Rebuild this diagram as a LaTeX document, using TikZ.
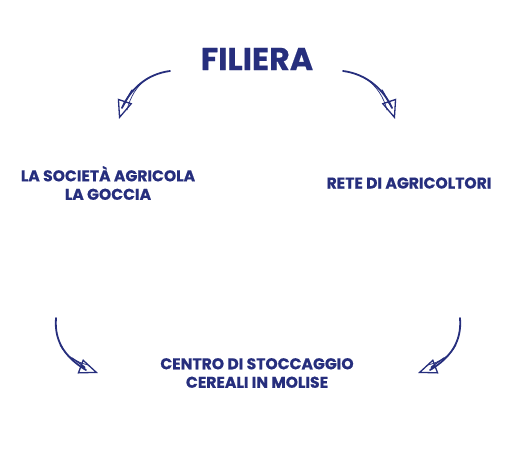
\documentclass[tikz,border=0pt]{standalone}
\usepackage{fontspec}
\setmainfont{Poppins}[BoldFont={* Bold},BoldFeatures={FakeBold=0.5}]
\usetikzlibrary{arrows.meta}
\definecolor{navy}{RGB}{38,46,125}
\tikzset{
  lbl/.style={text=navy, font=\bfseries\fontsize{15.6}{18.5}\selectfont, align=center, inner sep=0pt},
  ttl/.style={text=navy, font=\bfseries\fontsize{31.7}{34}\selectfont, inner sep=0pt},
  sk/.style={draw=navy, line width=1.8pt, line cap=round},
  skthin/.style={draw=navy, line width=0.7pt, line cap=round},
  skhead/.style={draw=navy, line width=1.3pt, line cap=round, -{Triangle[open,length=19pt,width=15pt,line width=1.3pt]}}
}
\begin{document}
\begin{tikzpicture}[x=1pt,y=-1pt]
\useasboundingbox (0,0) rectangle (526,467);
\node[ttl] (fil) at (257,59) {FILIERA};
\node[lbl] (soc) at (108,183) {LA SOCIETÀ AGRICOLA\\LA GOCCIA};
\node[lbl] (rete) at (409,183) {RETE DI AGRICOLTORI};
\node[lbl] (cen) at (257,373) {CENTRO DI STOCCAGGIO\\CEREALI IN MOLISE};
% arrow end points
\coordinate (a1s) at (170,71); \coordinate (a1e) at (119,119);
\coordinate (a2s) at (343,71); \coordinate (a2e) at (395,119);
\coordinate (a3s) at (56,318); \coordinate (a3e) at (98,373);
\coordinate (a4s) at (460,318); \coordinate (a4e) at (418,373);
% arrow 1
\draw[sk] (a1s) .. controls (146,74) and (130,90) .. ([shift={(3,-11)}]a1e);
\draw[skthin] (148,78) .. controls (136,86) and (130,98) .. ([shift={(8,-9)}]a1e);
\draw[skhead] (132,90) .. controls (126,100) and (122,110) .. (a1e);
% arrow 2
\draw[sk] (a2s) .. controls (367,74) and (384,90) .. ([shift={(-3,-11)}]a2e);
\draw[skthin] (365,78) .. controls (377,86) and (384,98) .. ([shift={(-8,-9)}]a2e);
\draw[skhead] (382,90) .. controls (388,100) and (392,110) .. (a2e);
% arrow 3
\draw[sk] (a3s) .. controls (54,342) and (66,358) .. ([shift={(-12,-3)}]a3e);
\draw[skthin] (60,345) .. controls (66,356) and (76,362) .. ([shift={(-10,-8)}]a3e);
\draw[skhead] (72,358) .. controls (82,365) and (90,370) .. (a3e);
% arrow 4
\draw[sk] (a4s) .. controls (462,342) and (450,358) .. ([shift={(12,-3)}]a4e);
\draw[skthin] (456,345) .. controls (450,356) and (440,362) .. ([shift={(10,-8)}]a4e);
\draw[skhead] (444,358) .. controls (434,365) and (426,370) .. (a4e);
\end{tikzpicture}
\end{document}
